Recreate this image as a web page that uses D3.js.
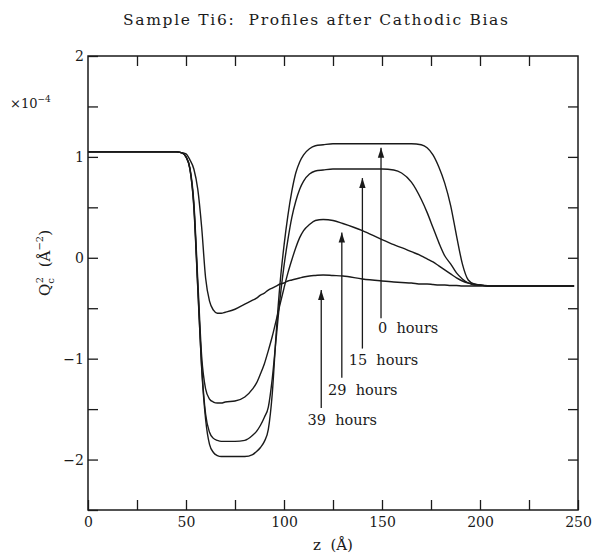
<!DOCTYPE html>
<html>
<head>
<meta charset="utf-8">
<script src="https://cdn.jsdelivr.net/npm/d3@7"></script>
<style>
  html, body { margin: 0; padding: 0; background: #fff; }
  svg { display: block; }
  text { font-family: "DejaVu Serif", "Liberation Serif", serif; fill: #1a1a1a; }
</style>
</head>
<body>
<svg id="chart" width="592" height="555"></svg>
<script>
// ---------------- data ----------------
const title = "Sample Ti6:  Profiles after Cathodic Bias";
const xTicks = [0, 25, 50, 75, 100, 125, 150, 175, 200, 225, 250];
const xTickLabels = [0, 50, 100, 150, 200, 250];
const yTicks = [-2.5, -2, -1.5, -1, -0.5, 0, 0.5, 1, 1.5, 2];
const yTickLabels = [-2, -1, 0, 1, 2];

const z = [0, 10, 20, 30, 40, 45, 48, 50, 52, 54, 56, 58, 60, 62, 64, 66, 68, 70, 75, 80,
           84, 86, 88, 90, 92, 94, 96, 98, 100, 102, 104, 106, 108, 110, 113, 116, 120, 125, 130, 140,
           150, 156, 160, 165, 170, 173, 176, 179, 182, 185, 188, 191, 194, 197, 200, 205, 210, 220, 230, 240, 248];

const hours0 = [1.05, 1.05, 1.05, 1.05, 1.05, 1.05, 1.04, 1.0, 0.88, 0.5, -0.3, -1.1, -1.6, -1.85, -1.93, -1.96, -1.97, -1.97, -1.97, -1.97,
                -1.95, -1.92, -1.88, -1.82, -1.7, -1.35, -0.75, -0.25, 0.12, 0.42, 0.66, 0.84, 0.95, 1.02, 1.08, 1.11, 1.12, 1.13, 1.13, 1.13,
                1.13, 1.13, 1.13, 1.13, 1.12, 1.09, 1.02, 0.9, 0.74, 0.52, 0.22, -0.06, -0.22, -0.26, -0.27, -0.28, -0.28, -0.28, -0.28, -0.28, -0.28];

const hours15 = [1.05, 1.05, 1.05, 1.05, 1.05, 1.05, 1.04, 1.0, 0.88, 0.52, -0.28, -1.08, -1.55, -1.73, -1.79, -1.81, -1.82, -1.82, -1.82, -1.81,
                 -1.76, -1.72, -1.66, -1.58, -1.48, -1.2, -0.8, -0.4, -0.08, 0.18, 0.4, 0.56, 0.68, 0.76, 0.83, 0.86, 0.87, 0.88, 0.88, 0.88,
                 0.88, 0.87, 0.84, 0.75, 0.58, 0.45, 0.3, 0.15, 0.02, -0.06, -0.15, -0.21, -0.25, -0.27, -0.27, -0.28, -0.28, -0.28, -0.28, -0.28, -0.28];

const hours29 = [1.05, 1.05, 1.05, 1.05, 1.05, 1.05, 1.04, 1.0, 0.89, 0.55, -0.22, -0.98, -1.3, -1.4, -1.43, -1.44, -1.44, -1.43, -1.42, -1.38,
                 -1.3, -1.24, -1.15, -1.05, -0.92, -0.78, -0.62, -0.46, -0.3, -0.15, -0.02, 0.1, 0.2, 0.27, 0.33, 0.37, 0.38, 0.37, 0.34, 0.27,
                 0.18, 0.13, 0.1, 0.06, 0.02, -0.01, -0.04, -0.08, -0.12, -0.16, -0.2, -0.23, -0.25, -0.26, -0.27, -0.28, -0.28, -0.28, -0.28, -0.28, -0.28];

const hours39 = [1.05, 1.05, 1.05, 1.05, 1.05, 1.05, 1.04, 1.03, 0.97, 0.88, 0.68, 0.3, -0.2, -0.43, -0.52, -0.55, -0.55, -0.54, -0.51, -0.46,
                 -0.42, -0.4, -0.37, -0.35, -0.32, -0.3, -0.28, -0.26, -0.25, -0.23, -0.22, -0.21, -0.2, -0.19, -0.18, -0.175, -0.17, -0.175, -0.18, -0.21,
                 -0.23, -0.24, -0.245, -0.25, -0.26, -0.26, -0.265, -0.27, -0.27, -0.275, -0.275, -0.28, -0.28, -0.28, -0.28, -0.28, -0.28, -0.28, -0.28, -0.28, -0.28];

// annotations: label, arrow z, arrow tip value, arrow tail value, label start z, label baseline value
const labels    = ["0  hours", "15  hours", "29  hours", "39  hours"];
const arrowZ    = [149.5, 140, 129.5, 119];
const arrowTip  = [1.09, 0.79, 0.25, -0.32];
const arrowTail = [-0.6, -0.9, -1.19, -1.49];
const labelZ    = [148, 133, 122.5, 112];
const labelV    = [-0.75, -1.06, -1.36, -1.66];

// ---------------- drawing ----------------
const svg = d3.select("#chart");
const mLeft = 88, mRight = 578, mTop = 56, mBottom = 510;
const x = d3.scaleLinear().domain([0, 250]).range([mLeft, mRight]);
const y = d3.scaleLinear().domain([-2.5, 2]).range([mBottom, mTop]);
const ink = "#1a1a1a";

// title
svg.append("text")
  .attr("x", 123).attr("y", 25)
  .attr("font-size", 15.5)
  .attr("textLength", 385).attr("lengthAdjust", "spacing")
  .style("white-space", "pre")
  .text(title);

// frame
svg.append("rect")
  .attr("x", mLeft).attr("y", mTop)
  .attr("width", mRight - mLeft).attr("height", mBottom - mTop)
  .attr("fill", "none").attr("stroke", ink).attr("stroke-width", 1.5);

const tickLen = 10;
function styleAxis(g) {
  g.select(".domain").remove();
  g.selectAll(".tick line").attr("stroke", ink).attr("stroke-width", 1.3);
  g.selectAll(".tick text").attr("font-family", "DejaVu Serif").attr("font-size", 14).attr("fill", ink);
}
const fmtX = d => xTickLabels.includes(d) ? String(d) : "";
const fmtY = d => yTickLabels.includes(d) ? d3.format("d")(d) : "";

svg.append("g").attr("transform", `translate(0,${mBottom})`)
  .call(d3.axisBottom(x).tickValues(xTicks).tickSize(-tickLen).tickPadding(7).tickFormat(fmtX))
  .call(styleAxis);
svg.append("g").attr("transform", `translate(0,${mTop})`)
  .call(d3.axisTop(x).tickValues(xTicks.slice(1, -1)).tickSize(-tickLen).tickFormat(""))
  .call(styleAxis);
svg.append("g").attr("transform", `translate(${mLeft},0)`)
  .call(d3.axisLeft(y).tickValues(yTicks).tickSize(-tickLen).tickPadding(4).tickFormat(fmtY))
  .call(styleAxis);
svg.append("g").attr("transform", `translate(${mRight},0)`)
  .call(d3.axisRight(y).tickValues(yTicks.slice(1, -1)).tickSize(-tickLen).tickFormat(""))
  .call(styleAxis);

// curves
const line = d3.line().x((d, i) => x(z[i])).y(d => y(d)).curve(d3.curveMonotoneX);
[hours0, hours15, hours29, hours39].forEach(s => {
  svg.append("path").attr("d", line(s))
    .attr("fill", "none").attr("stroke", ink).attr("stroke-width", 1.4);
});

// arrow marker
svg.append("defs").append("marker")
  .attr("id", "ah").attr("viewBox", "0 0 10 10")
  .attr("refX", 10).attr("refY", 5)
  .attr("markerWidth", 10).attr("markerHeight", 10)
  .attr("markerUnits", "userSpaceOnUse")
  .attr("orient", "auto")
  .append("path").attr("d", "M0,1.8 L10,5 L0,8.2 Z").attr("fill", ink);

labels.forEach((lab, i) => {
  svg.append("line")
    .attr("x1", x(arrowZ[i])).attr("x2", x(arrowZ[i]))
    .attr("y1", y(arrowTail[i])).attr("y2", y(arrowTip[i]))
    .attr("stroke", ink).attr("stroke-width", 1.3)
    .attr("marker-end", "url(#ah)");
  svg.append("text")
    .attr("x", x(labelZ[i])).attr("y", y(labelV[i]))
    .attr("font-size", 14.5)
    .style("white-space", "pre")
    .text(lab);
});

// axis labels
svg.append("text")
  .attr("x", x(125)).attr("y", 550)
  .attr("text-anchor", "middle").attr("font-size", 15)
  .style("white-space", "pre")
  .text("z  (Å)");

const yl = svg.append("text")
  .attr("transform", "translate(50,263) rotate(-90)")
  .attr("text-anchor", "middle").attr("font-size", 15)
  .style("white-space", "pre");
yl.append("tspan").text("Q");
yl.append("tspan").attr("font-size", 10).attr("dy", 4).text("c");
yl.append("tspan").attr("font-size", 10).attr("dy", -11).attr("dx", -5).text("2");
yl.append("tspan").attr("dy", 7).text("  (Å");
yl.append("tspan").attr("font-size", 10).attr("dy", -7).text("−2");
yl.append("tspan").attr("dy", 7).text(")");

const ex = svg.append("text").attr("x", 10).attr("y", 108).attr("font-size", 13);
ex.append("tspan").text("×10");
ex.append("tspan").attr("font-size", 9).attr("dy", -6).text("−4");
</script>
</body>
</html>
